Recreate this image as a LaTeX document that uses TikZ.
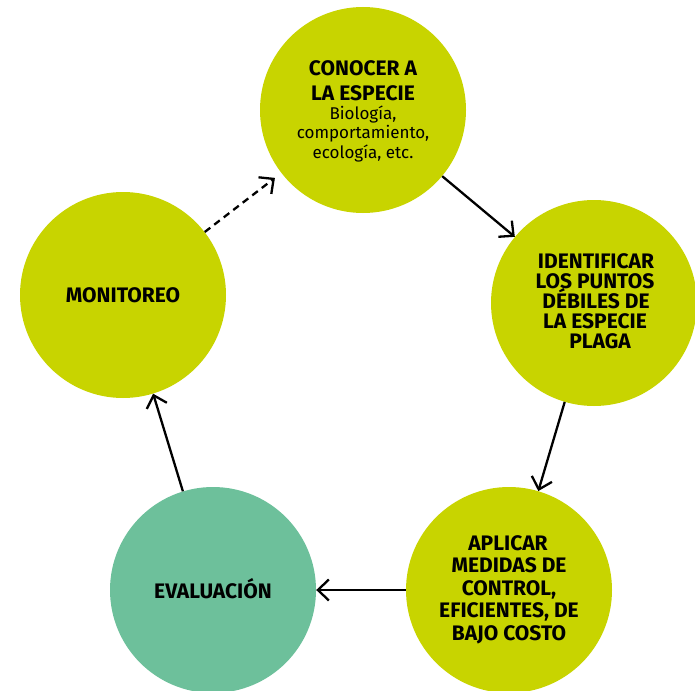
\documentclass[tikz,border=0pt]{standalone}
\usepackage{fontspec}
\setmainfont{Fira Sans}
\usetikzlibrary{arrows.meta}
\definecolor{lime}{RGB}{200,212,0}
\definecolor{sea}{RGB}{109,192,155}
\begin{document}
\begin{tikzpicture}[x=1pt,y=-1pt,
  stage/.style={circle,minimum size=206pt,inner sep=0pt,fill=lime},
  bl/.style={anchor=base,inner sep=0pt,font=\bfseries\fontsize{21}{23}\selectfont,text=black},
  rl/.style={anchor=base,inner sep=0pt,font=\fontsize{17}{19}\selectfont,text=black},
  link/.style={draw=black,line width=2.3pt,-{Straight Barb[length=11pt,width=21pt,line width=2.3pt]}}]
\useasboundingbox (0,0) rectangle (695,690);
\clip (0,0) rectangle (695,690);
\node[stage] (know) at (363,110) {};
\node[stage] (ident) at (594,303) {};
\node[stage] (apply) at (509,590) {};
\node[stage,fill=sea] (eval) at (213,590) {};
\node[stage] (mon) at (123,295) {};
% top circle
\node[bl] (k1) at (363,76) {CONOCER A};
\node[bl] (k2) at (363,100.5) {LA ESPECIE};
\node[rl] (k3) at (363,119) {Biología,};
\node[rl] (k4) at (363,138.5) {comportamiento,};
\node[rl] (k5) at (363,158) {ecología, etc.};
% right circle
\node[bl] (i1) at (596,268) {IDENTIFICAR};
\node[bl] (i2) at (595,288) {LOS PUNTOS};
\node[bl] (i3) at (596,308) {DÉBILES DE};
\node[bl] (i4) at (595,328) {LA ESPECIE};
\node[bl] (i5) at (600,348) {PLAGA};
% bottom right circle
\node[bl] (a1) at (508,550) {APLICAR};
\node[bl] (a2) at (509,572.5) {MEDIDAS DE};
\node[bl] (a3) at (509,595) {CONTROL,};
\node[bl] (a4) at (509,617.5) {EFICIENTES, DE};
\node[bl] (a5) at (509,640) {BAJO COSTO};
% others
\node[bl] (e1) at (213,598) {EVALUACIÓN};
\node[bl] (m1) at (123,302) {MONITOREO};
\draw[link] (know) -- (ident);
\draw[link] (ident) -- (apply);
\draw[link] (apply) -- (eval);
\draw[link] (eval) -- (mon);
\draw[link,dash pattern=on 7pt off 5pt,shorten >=8pt] (mon) -- (know);
\end{tikzpicture}
\end{document}
